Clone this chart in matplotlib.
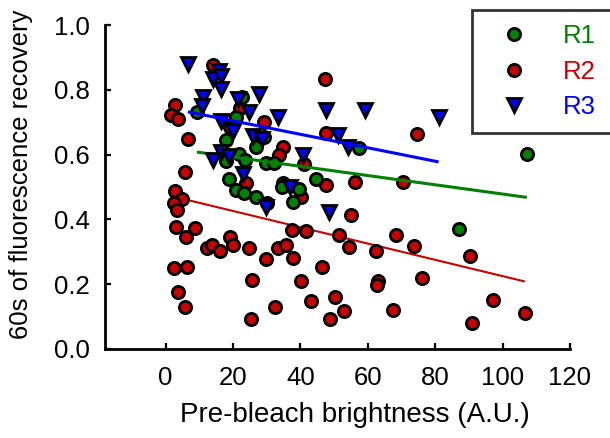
import numpy as np
import matplotlib
matplotlib.use("Agg")
import matplotlib.pyplot as plt
from matplotlib.lines import Line2D

plt.rcParams['font.family'] = ['Liberation Sans', 'DejaVu Sans']

# ---- data ----
r1_x = [9.3, 22.7, 20.9, 17.9, 26.8, 29.2, 21.8, 23.6, 17.9, 29.8, 32.2, 44.7,
        18.8, 20.9, 23.3, 26.8, 34.6, 39.6, 37.9, 57.5, 107.2, 87.0]
r1_y = [0.731, 0.778, 0.716, 0.645, 0.623, 0.654, 0.602, 0.583, 0.580, 0.574, 0.574, 0.525,
        0.525, 0.491, 0.481, 0.469, 0.500, 0.494, 0.454, 0.620, 0.602, 0.370]

r2_x = [2.7, 1.5, 3.6, 6.6, 14.0, 22.1, 19.1, 29.2, 34.9, 33.7, 41.1, 47.7, 47.4, 34.9,
        5.7, 47.7, 56.3, 70.3, 40.2, 55.1, 41.7, 51.5, 54.5, 62.3, 68.5, 73.6, 90.2,
        46.5, 40.2, 62.9, 62.6, 76.0, 43.2, 50.4, 53.0, 48.9, 67.6, 97.1, 90.8, 106.6,
        74.5, 2.7, 4.8, 2.4, 3.3, 3.0, 8.7, 6.0, 12.3, 13.8, 16.1, 19.1, 20.0, 24.8,
        29.8, 33.4, 35.8, 37.9, 37.6, 2.4, 6.3, 25.7, 3.6, 5.7, 32.5, 25.4, 23.9, 30.1]
r2_y = [0.753, 0.722, 0.710, 0.648, 0.877, 0.744, 0.685, 0.701, 0.623, 0.599, 0.571, 0.667,
        0.833, 0.512, 0.546, 0.506, 0.515, 0.515, 0.469, 0.414, 0.364, 0.352, 0.315, 0.302,
        0.352, 0.318, 0.287, 0.253, 0.210, 0.210, 0.198, 0.219, 0.148, 0.160, 0.117, 0.093,
        0.120, 0.151, 0.080, 0.111, 0.664, 0.488, 0.463, 0.451, 0.429, 0.377, 0.373, 0.346,
        0.312, 0.321, 0.302, 0.346, 0.321, 0.312, 0.278, 0.312, 0.321, 0.281, 0.367, 0.250,
        0.253, 0.213, 0.176, 0.130, 0.130, 0.093, 0.512, 0.451]

r3_x = [6.6, 15.8, 14.0, 16.4, 16.4, 11.1, 10.8, 21.5, 27.7, 24.8, 16.4, 20.0, 26.0, 28.6,
        33.4, 47.7, 59.3, 81.0, 51.2, 54.2, 40.8, 16.4, 18.8, 14.0, 23.0, 29.8, 37.0, 48.5]
r3_y = [0.880, 0.858, 0.833, 0.843, 0.802, 0.778, 0.750, 0.772, 0.787, 0.731, 0.704, 0.673,
        0.657, 0.648, 0.716, 0.738, 0.738, 0.716, 0.660, 0.623, 0.599, 0.608, 0.596, 0.583,
        0.540, 0.438, 0.500, 0.423]

series_names = ['R1', 'R2', 'R3']
x_ticks = [0, 20, 40, 60, 80, 100, 120]
y_ticks = [0.0, 0.2, 0.4, 0.6, 0.8, 1.0]

# ---- style ----
colors = {'R1': '#008000', 'R2': '#c80000', 'R3': '#0000ff'}
markers = {'R1': 'o', 'R2': 'o', 'R3': 'v'}
msize = {'R1': 8.8, 'R2': 8.8, 'R3': 10.0}
line_w = {'R1': 2.2, 'R2': 1.5, 'R3': 2.2}
pt_z = {'R1': 3, 'R2': 2, 'R3': 4}
ln_z = {'R1': 3.5, 'R2': 1.5, 'R3': 4.5}

fig = plt.figure(figsize=(6.1, 4.38), dpi=100)
ax = fig.add_axes([105/610, 1-349/438, 465/610, 324/438])

data = {'R1': (r1_x, r1_y), 'R2': (r2_x, r2_y), 'R3': (r3_x, r3_y)}
for name in series_names:
    x, y = np.asarray(data[name][0]), np.asarray(data[name][1])
    ax.plot(x, y, linestyle='none', marker=markers[name], markersize=msize[name],
            markerfacecolor=colors[name], markeredgecolor='black', markeredgewidth=2.0,
            zorder=pt_z[name])
    k, b = np.polyfit(x, y, 1)
    xs = np.array([x.min(), x.max()])
    ax.plot(xs, k*xs + b, color=colors[name], lw=line_w[name], zorder=ln_z[name],
            solid_capstyle='butt')

ax.set_xlim(-18, 120)
ax.set_ylim(0, 1.0)
ax.set_xticks(x_ticks)
ax.set_yticks(y_ticks)
ax.set_yticklabels([f"{v:.1f}" for v in y_ticks])
for s in ['top', 'right']:
    ax.spines[s].set_visible(False)
for s in ['left', 'bottom']:
    ax.spines[s].set_linewidth(2.0)
ax.tick_params(direction='in', length=4, width=1.6, labelsize=18.5)
ax.tick_params(axis='x', pad=12)
ax.tick_params(axis='y', pad=11)

ax.set_xlabel('Pre-bleach brightness (A.U.)', fontsize=20)
ax.set_ylabel('60s of fluorescence recovery', fontsize=18.5)
ax.xaxis.set_label_coords(0.538, -0.163)
ax.yaxis.set_label_coords(-0.155, 0.54)

handles = [Line2D([], [], linestyle='none', marker=markers[n], markersize=msize[n],
                  markerfacecolor=colors[n], markeredgecolor='black', markeredgewidth=2.0)
           for n in series_names]
leg_h = 0.3
leg = fig.legend(handles, series_names, loc='upper left',
                 bbox_to_anchor=(472/610, 1-10/438 - leg_h, 145/610, leg_h), mode='expand',
                 fontsize=18.5, frameon=True, fancybox=False, borderaxespad=0,
                 handlelength=2.2, handletextpad=0.8, labelspacing=0.45, borderpad=0.55)
leg.get_frame().set_edgecolor('black')
leg.get_frame().set_linewidth(2.0)
for t, n in zip(leg.get_texts(), series_names):
    t.set_color(colors[n])

fig.savefig('out.png', dpi=100)
